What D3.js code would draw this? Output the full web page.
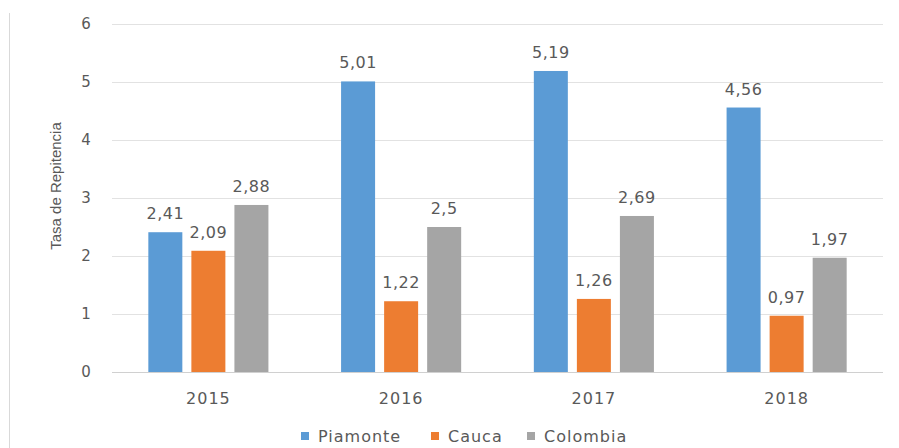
<!DOCTYPE html>
<html lang="es">
<head>
  <meta charset="UTF-8">
  <title>Tasa de Repitencia</title>
  <script src="https://d3js.org/d3.v7.min.js"></script>
  <style>
    body { margin: 0; background: #fff; }
    text { font-family: "DejaVu Sans", sans-serif; fill: #595959; }
  </style>
</head>
<body>
  <svg id="chart" width="899" height="448"></svg>

  <script>
    const years = ["2015", "2016", "2017", "2018"];
    const seriesNames = ["Piamonte", "Cauca", "Colombia"];
    const piamonte = [2.41, 5.01, 5.19, 4.56];
    const cauca = [2.09, 1.22, 1.26, 0.97];
    const colombia = [2.88, 2.5, 2.69, 1.97];
    const yTicks = [0, 1, 2, 3, 4, 5, 6];
    const colors = ["#5B9BD5", "#ED7D31", "#A5A5A5"];

    const values = [piamonte, cauca, colombia];

    const svg = d3.select("#chart");
    const margin = { top: 24, right: 16, bottom: 76, left: 112 };
    const width = +svg.attr("width");
    const height = +svg.attr("height");

    // left frame line
    svg.append("line")
      .attr("x1", 9.5).attr("x2", 9.5)
      .attr("y1", 13).attr("y2", height)
      .attr("stroke", "#d9d9d9");

    const y = d3.scaleLinear()
      .domain([0, 6])
      .range([height - margin.bottom, margin.top]);

    const x0 = d3.scaleBand()
      .domain(years)
      .range([margin.left, width - margin.right])
      .paddingInner(0.377)
      .paddingOuter(0.1885);

    const x1 = d3.scaleBand()
      .domain(seriesNames)
      .range([0, x0.bandwidth()])
      .paddingInner(0.21);

    // gridlines
    svg.append("g")
      .selectAll("line")
      .data(yTicks)
      .join("line")
      .attr("x1", margin.left).attr("x2", width - margin.right)
      .attr("y1", d => Math.round(y(d)) + 0.5)
      .attr("y2", d => Math.round(y(d)) + 0.5)
      .attr("stroke", d => d === 0 ? "#d0d0d0" : "#e2e2e2")
      .attr("stroke-width", 1.2);

    // y tick labels
    svg.append("g")
      .selectAll("text")
      .data(yTicks)
      .join("text")
      .attr("x", 86)
      .attr("y", d => y(d))
      .attr("dy", "0.35em")
      .attr("text-anchor", "middle")
      .style("font-size", "15px")
      .text(d => d);

    // y title
    svg.append("text")
      .attr("transform", `translate(61,186) rotate(-90)`)
      .attr("text-anchor", "middle")
      .style("font-size", "15px")
      .style("font-family", "'Liberation Sans', sans-serif")
      .text("Tasa de Repitencia");

    // bars
    const groups = svg.append("g")
      .selectAll("g")
      .data(years)
      .join("g")
      .attr("transform", d => `translate(${x0(d)},0)`);

    groups.selectAll("rect")
      .data((d, i) => seriesNames.map((s, j) => ({ s, j, v: values[j][i] })))
      .join("rect")
      .attr("x", d => x1(d.s))
      .attr("width", x1.bandwidth())
      .attr("y", d => y(d.v))
      .attr("height", d => y(0) - y(d.v))
      .attr("fill", d => colors[d.j]);

    groups.selectAll("text.lbl")
      .data((d, i) => seriesNames.map((s, j) => ({ s, j, v: values[j][i] })))
      .join("text")
      .attr("class", "lbl")
      .attr("x", d => x1(d.s) + x1.bandwidth() / 2)
      .attr("y", d => y(d.v) - 13)
      .attr("text-anchor", "middle")
      .style("font-size", "16px")
      .style("letter-spacing", "0.5px")
      .text(d => d3.format(".2~f")(d.v).replace(".", ","));

    // x labels
    svg.append("g")
      .selectAll("text")
      .data(years)
      .join("text")
      .attr("x", d => x0(d) + x0.bandwidth() / 2)
      .attr("y", 398)
      .attr("dy", "0.35em")
      .attr("text-anchor", "middle")
      .style("font-size", "16px")
      .style("letter-spacing", "1px")
      .text(d => d);

    // legend
    const legendX = [301, 431, 527];
    const legend = svg.append("g")
      .selectAll("g")
      .data(seriesNames)
      .join("g")
      .attr("transform", (d, i) => `translate(${legendX[i]},436)`);

    legend.append("rect")
      .attr("x", 0).attr("y", -4)
      .attr("width", 8).attr("height", 8)
      .attr("fill", (d, i) => colors[i]);

    legend.append("text")
      .attr("x", 17)
      .attr("y", 0)
      .attr("dy", "0.35em")
      .style("font-size", "16px")
      .style("letter-spacing", "1px")
      .text(d => d);
  </script>
</body>
</html>
